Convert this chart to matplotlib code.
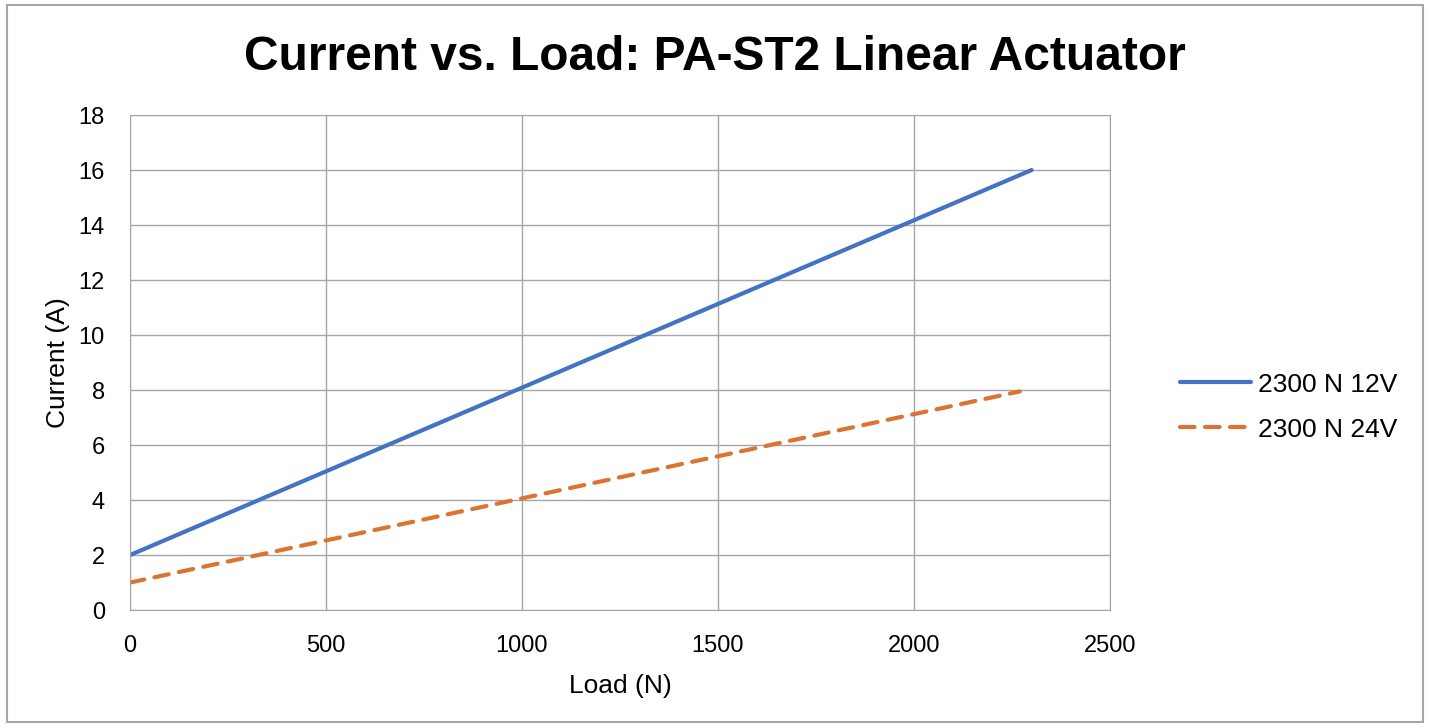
import matplotlib.pyplot as plt
from matplotlib.patches import Rectangle

plt.rcParams['font.family'] = ['Liberation Sans', 'DejaVu Sans']

load_12v = [0, 2300]
current_12v = [2.0, 16.0]
load_24v = [0, 2270]
current_24v = [1.0, 7.95]

xticks = [0, 500, 1000, 1500, 2000, 2500]
yticks = list(range(0, 19, 2))

fig = plt.figure(figsize=(14.3, 7.28), dpi=100)
ax = fig.add_axes([0.0909, 0.162, 0.6853, 0.680])

ax.plot(load_12v, current_12v, color='#4472C4', lw=3, label='2300 N 12V',
        solid_capstyle='round')
ax.plot(load_24v, current_24v, color='#DC7431', lw=3, ls=(0, (3.5, 2.5)),
        label='2300 N 24V', dash_capstyle='round')

ax.set_xlim(0, 2500)
ax.set_ylim(0, 18)
ax.set_xticks(xticks)
ax.set_yticks(yticks)
ax.grid(True, color='#A6A6A6', lw=1)
ax.set_axisbelow(True)
for s in ax.spines.values():
    s.set_color('#A6A6A6')
ax.tick_params(length=0, labelsize=17)
ax.tick_params(axis='x', pad=18)
ax.tick_params(axis='y', pad=18)
ax.set_xlabel('Load (N)', fontsize=19, labelpad=12)
ax.set_ylabel('Current (A)', fontsize=19, labelpad=6)

fig.suptitle('Current vs. Load: PA-ST2 Linear Actuator', fontsize=34.5,
             fontweight='bold', x=0.500, y=0.952)

ax.legend(loc='center left', bbox_to_anchor=(1.047, 0.41), frameon=False,
          fontsize=19, handlelength=2.7, handletextpad=0.25, labelspacing=0.8)

fig.patches.append(Rectangle((0.005, 0.008), 0.99, 0.985, transform=fig.transFigure,
                             fill=False, edgecolor='#A6A6A6', lw=1.5))

fig.savefig('out.png', dpi=100)
